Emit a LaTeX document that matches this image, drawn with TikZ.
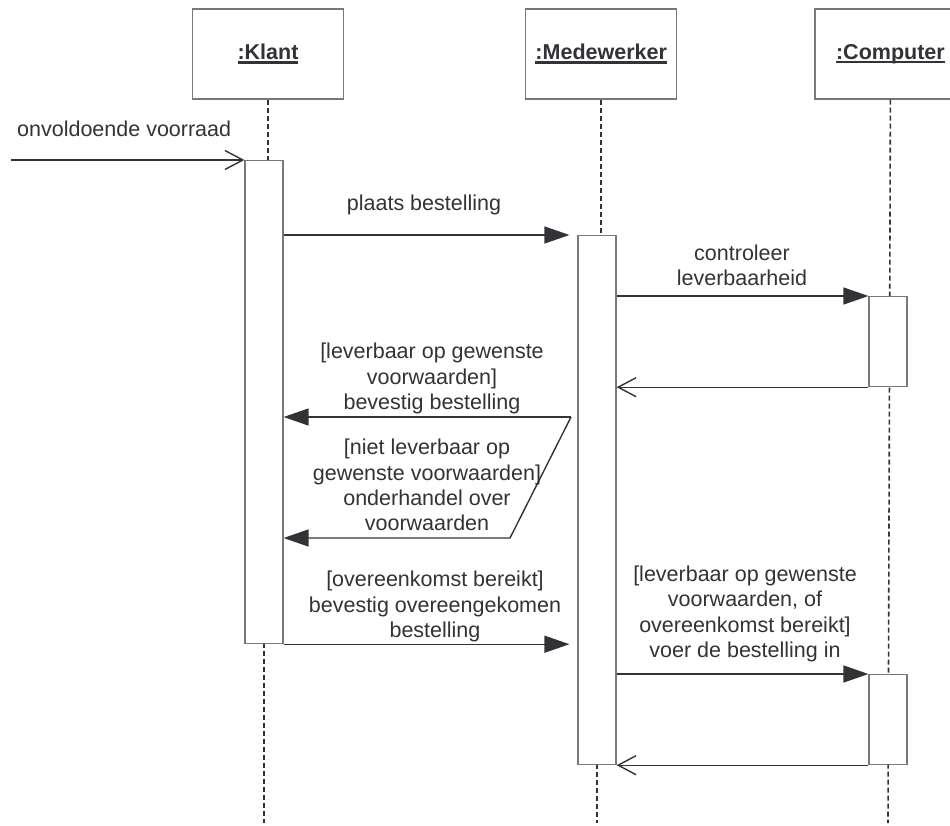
\documentclass[tikz,border=0pt]{standalone}
\usepackage{fontspec}
\setmainfont{Liberation Sans}
\usetikzlibrary{arrows.meta, positioning}
\definecolor{inkline}{RGB}{50,50,55}
\definecolor{boxline}{RGB}{120,120,120}
\definecolor{inktext}{RGB}{50,50,55}
\newcommand{\objlabel}[1]{\setbox0\hbox{#1}\rlap{\rule[-4pt]{\wd0}{2.5pt}}\box0}

\begin{document}
\begin{tikzpicture}[x=1pt,y=-1pt,font=\fontsize{21.5}{25.3}\selectfont,text=inktext]
    \tikzstyle{object}=[shape=rectangle,draw=boxline,line width=1.2pt,minimum width=151pt,minimum height=90pt,font=\fontsize{21.5}{25.3}\selectfont\bfseries]
    \tikzstyle{activation}=[shape=rectangle,draw=boxline,line width=1.2pt,fill=white,minimum width=38pt,inner sep=0pt]
    \tikzstyle{lifeline}=[draw=inkline,line width=1.6pt,dash pattern=on 5pt off 3pt]
    \tikzstyle{message}=[draw=inkline,line width=1.4pt,-{Triangle[length=25pt,width=17pt]}]
    \tikzstyle{reply}=[draw=inkline,line width=1.4pt,-{Straight Barb[length=18pt,width=19pt]}]
    \tikzstyle{guard}=[align=center,inner sep=0pt]

    \useasboundingbox (0,0) rectangle (950,825);
    \clip (0,0) rectangle (950,825);

    \node[object] (K0) at (268,54) {\objlabel{:Klant}};
    \node[object, right=181pt of K0] (M0) {\objlabel{:Medewerker}};
    \node[object, right=137pt of M0] (C0) {\objlabel{:Computer}};

    \coordinate (Kend) at (264,823);
    \coordinate (Mend) at (597,823);
    \coordinate (Cend) at (888,823);
    \coordinate (in) at (11,160);
    \coordinate (D1) at (571,417);
    \coordinate (D2) at (510,538);

    % lifelines
    \draw[lifeline] (K0.south) -- (K0.south |- 0,160);
    \draw[lifeline] (M0.south) -- (M0.south |- 0,235);
    \draw[lifeline] (C0.south) -- (Cend);
    \draw[lifeline] (264,643) -- (Kend);
    \draw[lifeline] (597,764) -- (Mend);

    \node[activation, anchor=north, minimum height=483pt] (K1) at (264,160) {};
    \node[activation, anchor=north, minimum height=529pt] (M1) at (597,235) {};
    \node[activation, anchor=north, minimum height=90pt] (C1) at (888,296) {};
    \node[activation, anchor=north, minimum height=90pt] (C2) at (888,674) {};

    \node[guard, anchor=west] (trigger) at (17,129) {onvoldoende voorraad};
    \node[guard] (order) at (424,205) {plaats bestelling};
    \node[guard] (check) at (742,265.5) {controleer\\leverbaarheid};
    \node[guard] (confirm) at (432,378.5) {[leverbaar op gewenste\\voorwaarden]\\bevestig bestelling};
    \node[guard] (negotiate) at (427,485) {[niet leverbaar op\\gewenste voorwaarden]\\onderhandel over\\voorwaarden};
    \node[guard] (agreed) at (435,606.5) {[overeenkomst bereikt]\\bevestig overeengekomen\\bestelling};
    \node[guard] (enter) at (745,614) {[leverbaar op gewenste\\voorwaarden, of\\overeenkomst bereikt]\\voer de bestelling in};

    \draw[message, shorten >=8pt] (K1.east |- M1.north) -- (M1.north west);
    \draw[message] (M1.east |- C1.north) -- (C1.north west);
    \draw[message] (D1) -- (K1.east |- D1);
    \draw[message] (D1) -- (D2) -- (K1.east |- D2);
    \draw[message, shorten >=8pt] (K1.south east) -- (M1.west |- K1.south);
    \draw[message] (M1.east |- C2.north) -- (C2.north west);

    \draw[reply] (in) -- (K1.north west);
    \draw[reply] (C1.south west) -- (M1.east |- C1.south);
    \draw[reply] (C2.south west) -- (M1.south east);

\end{tikzpicture}
\end{document}
